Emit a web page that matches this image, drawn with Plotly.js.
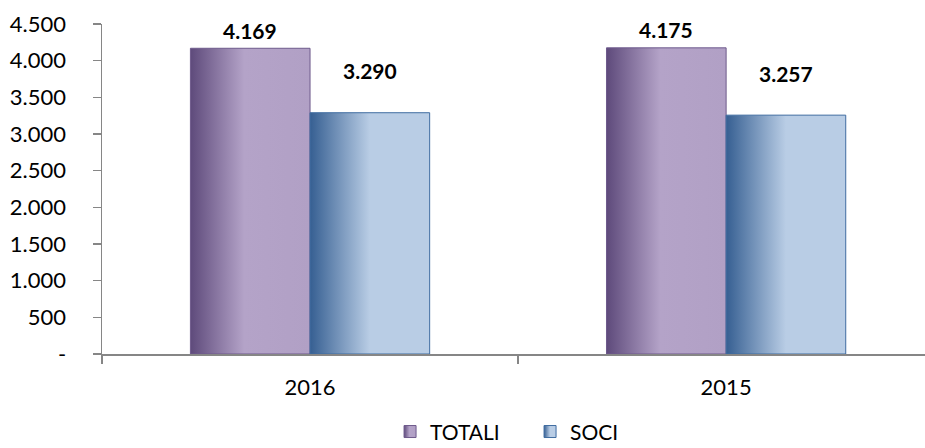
<!DOCTYPE html>
<html>
<head>
<meta charset="utf-8">
<script src="https://cdn.plot.ly/plotly-3.0.1.min.js"></script>
<style>html,body{margin:0;padding:0;background:#fff;}#chart{width:925px;height:448px;}</style>
</head>
<body>
<div id="chart"></div>
<script>
const categories = ["2016", "2015"];
const totali = [4169, 4175];
const soci = [3290, 3257];
const seriesNames = ["TOTALI", "SOCI"];
const tickVals = [0, 500, 1000, 1500, 2000, 2500, 3000, 3500, 4000, 4500];
const tickText = ["-", "500", "1.000", "1.500", "2.000", "2.500", "3.000", "3.500", "4.000", "4.500"];

function fmt(v) {
  return String(v).replace(/\B(?=(\d{3})+(?!\d))/g, ".");
}

const FONT = "Lato, 'Open Sans', sans-serif";

const traces = [
  {type: "bar", name: seriesNames[0], x: categories, y: totali,
   marker: {color: "#B3A2C7", line: {color: "#6E5A8C", width: 1}}, hoverinfo: "skip"},
  {type: "bar", name: seriesNames[1], x: categories, y: soci,
   marker: {color: "#B9CDE5", line: {color: "#3F6CA0", width: 1}}, hoverinfo: "skip"}
];

const annotations = [];
categories.forEach((c, i) => {
  annotations.push({x: i, y: totali[i], xref: "x", yref: "y", text: "<b>" + fmt(totali[i]) + "</b>",
    showarrow: false, xshift: -60, yshift: 18, yanchor: "middle",
    font: {family: FONT, size: 21, color: "#000"}});
  annotations.push({x: i, y: soci[i], xref: "x", yref: "y", text: "<b>" + fmt(soci[i]) + "</b>",
    showarrow: false, xshift: 60, yshift: 42, yanchor: "middle",
    font: {family: FONT, size: 21, color: "#000"}});
});

const layout = {
  width: 925, height: 448,
  margin: {l: 102, r: 0, t: 24, b: 94, pad: 0, autoexpand: false},
  paper_bgcolor: "#fff", plot_bgcolor: "#fff",
  font: {family: FONT, size: 22, color: "#000"},
  barmode: "group", bargap: 0.425, bargroupgap: 0,
  showlegend: true,
  legend: {orientation: "h", x: 0.35, xanchor: "left", yref: "container", y: 0.036, yanchor: "middle",
    font: {family: FONT, size: 21, color: "#000"}, traceorder: "normal",
    entrywidth: 95, entrywidthmode: "pixels"},
  xaxis: {type: "category", range: [-0.5, 1.478], showgrid: false, zeroline: false,
    showline: true, linecolor: "#868686", linewidth: 1.5,
    ticks: "outside", tickson: "boundaries", ticklen: 8, tickcolor: "#868686", tickwidth: 1.5,
    ticklabelstandoff: 13, tickfont: {family: FONT, size: 22, color: "#000"}},
  yaxis: {range: [0, 4500], showgrid: false, zeroline: false,
    showline: true, linecolor: "#868686", linewidth: 1.5,
    ticks: "outside", ticklen: 8, tickcolor: "#868686", tickwidth: 1.5,
    tickmode: "array", tickvals: tickVals, ticktext: tickText,
    ticklabelstandoff: 22, tickfont: {family: FONT, size: 22, color: "#000"}},
  annotations: annotations
};

Plotly.newPlot("chart", traces, layout, {staticPlot: true, displayModeBar: false}).then(gd => {
  const svg = gd.querySelector(".main-svg");
  const NS = "http://www.w3.org/2000/svg";
  let defs = svg.querySelector("defs");
  if (!defs) { defs = document.createElementNS(NS, "defs"); svg.insertBefore(defs, svg.firstChild); }
  const grads = [
    {id: "gTot", stops: [[0, "#5E4A7B"], [0.45, "#B4A3C8"], [1, "#B1A0C5"]]},
    {id: "gSoc", stops: [[0, "#365F92"], [0.5, "#B9CDE5"], [1, "#B9CDE5"]]}
  ];
  grads.forEach(g => {
    const lg = document.createElementNS(NS, "linearGradient");
    lg.setAttribute("id", g.id);
    lg.setAttribute("x1", "0"); lg.setAttribute("x2", "1");
    lg.setAttribute("y1", "0"); lg.setAttribute("y2", "0");
    g.stops.forEach(s => {
      const st = document.createElementNS(NS, "stop");
      st.setAttribute("offset", s[0]);
      st.setAttribute("stop-color", s[1]);
      lg.appendChild(st);
    });
    defs.appendChild(lg);
  });
  const barTraces = gd.querySelectorAll(".barlayer .trace");
  barTraces.forEach((t, i) => {
    t.querySelectorAll("path").forEach(p => { p.style.fill = "url(#" + grads[i].id + ")"; });
  });
  const legTraces = gd.querySelectorAll(".legend .traces");
  legTraces.forEach((t, i) => {
    t.querySelectorAll(".legendpoints path").forEach(p => { p.style.fill = "url(#" + grads[i].id + ")"; });
  });
});
</script>
</body>
</html>
